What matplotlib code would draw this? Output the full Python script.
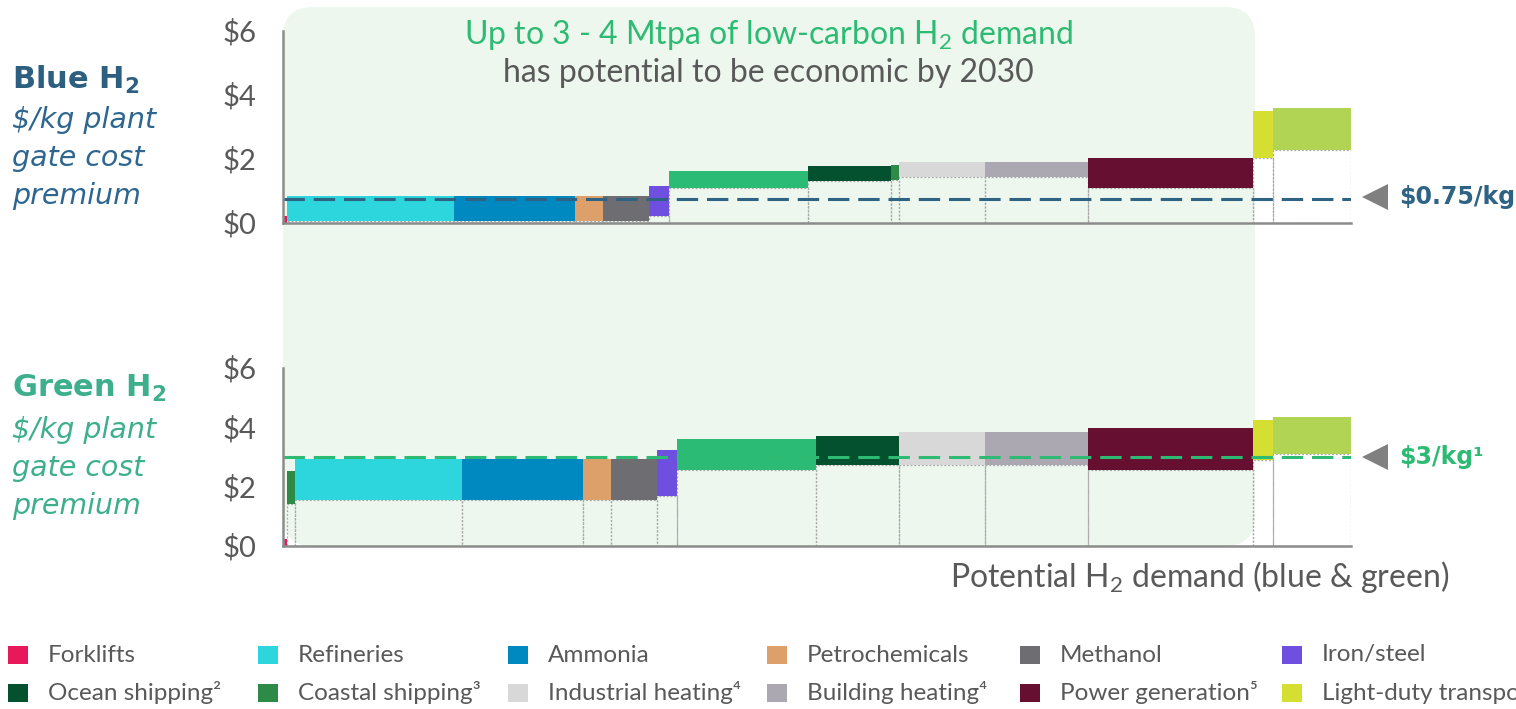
import matplotlib
matplotlib.use("Agg")
import matplotlib.pyplot as plt
from matplotlib.patches import Rectangle, FancyBboxPatch, Polygon

# ---------------- data ----------------
sectors = ["Forklifts", "Refineries", "Ammonia", "Petrochemicals", "Methanol",
           "Iron/steel", "Heavy-duty transport", "Ocean shipping", "Coastal shipping",
           "Industrial heating", "Building heating", "Power generation",
           "Light-duty transport", "Medium-duty transport"]
# potential demand (Mtpa)
demand = [0.014, 0.596, 0.432, 0.100, 0.164, 0.071, 0.496, 0.298, 0.029,
          0.305, 0.367, 0.590, 0.070, 0.279]
colors = ["#e8195a", "#2dd5dc", "#0089c0", "#dea06a", "#6e6e72", "#6f4fe0",
          "#2bbb74", "#03512e", "#2e8b47", "#d8d8d8", "#aba8b2", "#660f30",
          "#d4df31", "#b1d455"]

blue_order = ["Forklifts", "Refineries", "Ammonia", "Petrochemicals", "Methanol",
              "Iron/steel", "Heavy-duty transport", "Ocean shipping", "Coastal shipping",
              "Industrial heating", "Building heating", "Power generation",
              "Light-duty transport", "Medium-duty transport"]
blue_low = [0.00, 0.05, 0.05, 0.05, 0.05, 0.20, 1.09, 1.30, 1.33, 1.42, 1.42, 1.09, 2.03, 2.28]
blue_high = [0.20, 0.82, 0.82, 0.82, 0.82, 1.15, 1.62, 1.77, 1.80, 1.90, 1.90, 2.02, 3.49, 3.58]

green_order = ["Forklifts", "Coastal shipping", "Refineries", "Ammonia", "Petrochemicals",
               "Methanol", "Iron/steel", "Heavy-duty transport", "Ocean shipping",
               "Industrial heating", "Building heating", "Power generation",
               "Light-duty transport", "Medium-duty transport"]
green_low = [0.00, 1.41, 1.53, 1.53, 1.53, 1.53, 1.68, 2.55, 2.73, 2.71, 2.71, 2.55, 2.88, 3.10]
green_high = [0.24, 2.52, 2.92, 2.92, 2.92, 2.92, 3.22, 3.58, 3.71, 3.83, 3.83, 3.96, 4.23, 4.33]

blue_threshold = 0.75
green_threshold = 3.0
yticks = [0, 2, 4, 6]
ytick_labels = ["$0", "$2", "$4", "$6"]

legend_row1 = ["Forklifts", "Refineries", "Ammonia", "Petrochemicals", "Methanol", "Iron/steel"]
legend_row2 = ["Ocean shipping", "Coastal shipping", "Industrial heating",
               "Building heating", "Power generation", "Light-duty transport"]
legend_sup = {"Ocean shipping": "²", "Coastal shipping": "³", "Industrial heating": "⁴",
              "Building heating": "⁴", "Power generation": "⁵"}

# ---------------- style ----------------
plt.rcParams["mathtext.fontset"] = "custom"
plt.rcParams["mathtext.rm"] = "Lato"
plt.rcParams["mathtext.it"] = "DejaVu Sans:italic"
plt.rcParams["mathtext.bf"] = "DejaVu Sans:bold"

W, H = 1516, 709
fig = plt.figure(figsize=(W / 100, H / 100), dpi=100)
GRAY = "#595959"
BLUE = "#2c5f80"
BLUE_IT = "#2e6690"
GREEN_T = "#3daf8d"
GREEN_L = "#2dbb74"
SHADE = "#edf7ee"
TXT = ["Lato", "DejaVu Sans"]

col_of = dict(zip(sectors, colors))
dem_of = dict(zip(sectors, demand))
total = sum(demand)

# background axes in pixel coordinates (y from top)
bg = fig.add_axes([0, 0, 1, 1], zorder=0)
bg.set_xlim(0, W)
bg.set_ylim(H, 0)
bg.axis("off")


def px_axes(left, top, right, bottom):
    return fig.add_axes([left / W, 1 - bottom / H, (right - left) / W, (bottom - top) / H], zorder=2)


ax_top = px_axes(283, 30.7, 1350.7, 222.7)
ax_bot = px_axes(283, 367.5, 1350.7, 545.7)


def draw_panel(ax, order, low, high, thr, thr_color):
    ax.set_facecolor("none")
    ax.set_xlim(0, total)
    ax.set_ylim(0, 6)
    x = 0.0
    for name, lo, hi in zip(order, low, high):
        w = dem_of[name]
        if lo > 0:
            ax.add_patch(Rectangle((x, 0), w, lo, facecolor="none", edgecolor="#a8a8a8",
                                   lw=0.9, ls=(0, (1.5, 1.5)), zorder=2))
        ax.add_patch(Rectangle((x, lo), w, hi - lo, facecolor=col_of[name],
                               edgecolor="none", zorder=3))
        x += w
    ax.plot([0, total], [thr, thr], color=thr_color, lw=2.2,
            ls=(0, (7.0, 2.9)), zorder=5, solid_capstyle="butt")
    for s in ["top", "right"]:
        ax.spines[s].set_visible(False)
    for s in ["left", "bottom"]:
        ax.spines[s].set_color("#8c8c8c")
        ax.spines[s].set_linewidth(1.8)
        ax.spines[s].set_zorder(6)
    ax.set_xticks([])
    ax.set_yticks(yticks)
    ax.set_yticklabels(ytick_labels, fontsize=21, color=GRAY, family=TXT)
    ax.tick_params(axis="y", length=0, pad=19)


draw_panel(ax_top, blue_order, blue_low, blue_high, blue_threshold, "#2e6384")
draw_panel(ax_bot, green_order, green_low, green_high, green_threshold, GREEN_L)

# shaded region covering demand up to power generation (top panel ordering)
end_idx = blue_order.index("Power generation")
x_end = sum(dem_of[n] for n in blue_order[:end_idx + 1])
fig.canvas.draw()
x_right_px = ax_top.transData.transform((x_end, 0))[0] + 2
shade = FancyBboxPatch((283, 7), x_right_px - 283, 539,
                       boxstyle="round,pad=0,rounding_size=30",
                       facecolor=SHADE, edgecolor="none", zorder=0)
bg.add_patch(shade)

# headline
bg.text(768, 35, "Up to 3 - 4 Mtpa of low-carbon H$_2$ demand", color=GREEN_L,
        fontsize=23, ha="center", va="center", family=TXT)
bg.text(768, 73, "has potential to be economic by 2030", color=GRAY,
        fontsize=23, ha="center", va="center", family=TXT)

# side labels
bg.text(12, 80, r"Blue H$_\mathbf{2}$", color=BLUE, fontsize=22, fontweight="bold",
        ha="left", va="center", family="DejaVu Sans")
for i, t in enumerate(["$/kg plant", "gate cost", "premium"]):
    bg.text(12, 120 + 38 * i, t, color=BLUE_IT, fontsize=20.5, style="italic",
            ha="left", va="center", family="DejaVu Sans")
bg.text(12, 388, r"Green H$_\mathbf{2}$", color=GREEN_T, fontsize=22, fontweight="bold",
        ha="left", va="center", family="DejaVu Sans")
for i, t in enumerate(["$/kg plant", "gate cost", "premium"]):
    bg.text(12, 430 + 38 * i, t, color=GREEN_T, fontsize=20.5, style="italic",
            ha="left", va="center", family="DejaVu Sans")

# threshold markers
for yc, lab, c, in [(197, "$0.75/kg", "#2e6384"), (457, "$3/kg¹", GREEN_L)]:
    bg.add_patch(Polygon([[1362, yc], [1388, yc - 13], [1388, yc + 13]], closed=True,
                         facecolor="#808080", edgecolor="none"))
    bg.text(1399, yc, lab, color=c, fontsize=17, fontweight="bold", ha="left",
            va="center", family="DejaVu Sans")

# x label
bg.text(1200, 577, "Potential H$_2$ demand (blue & green)", color=GRAY, fontsize=23,
        ha="center", va="center", family=TXT)

# legend
col_x = [8, 258, 508, 767, 1020, 1282]
for row_y, row in [(655, legend_row1), (693, legend_row2)]:
    for cx, name in zip(col_x, row):
        bg.add_patch(Rectangle((cx, row_y - 9), 20, 18, facecolor=col_of[name], edgecolor="none"))
        bg.text(cx + 40, row_y, name + legend_sup.get(name, ""), color=GRAY, fontsize=17.5,
                ha="left", va="center", family=TXT)

fig.savefig("out.png", dpi=100)
